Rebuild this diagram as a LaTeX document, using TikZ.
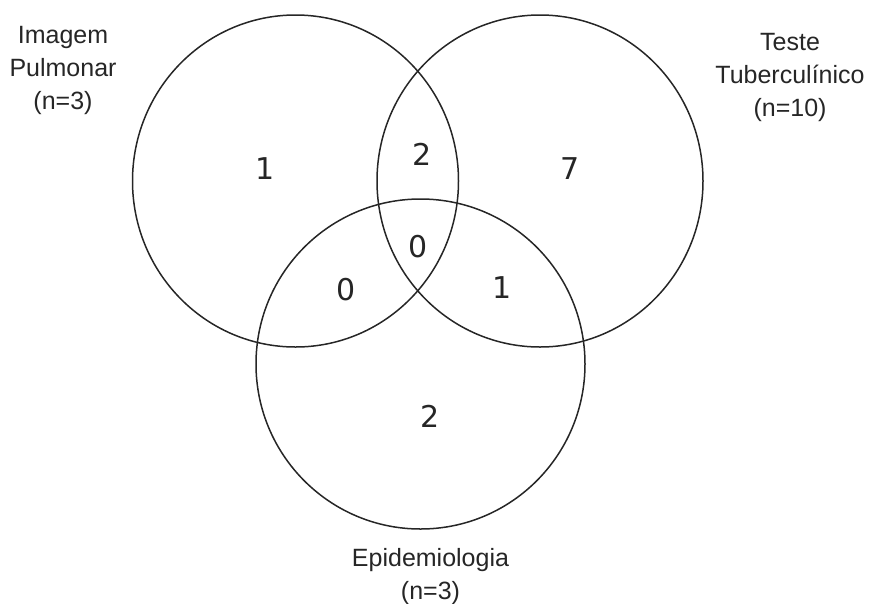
\documentclass[tikz,border=0pt]{standalone}
\usepackage{fontspec}
\setmainfont{Liberation Sans}
\newfontfamily\numfont{DejaVu Sans}
\begin{document}
\begin{tikzpicture}[x=1pt,y=-1pt,
  setcircle/.style={draw=black!85,line width=1.5pt},
  setlabel/.style={align=center,inner sep=0pt,anchor=north,text=black!85,font=\fontsize{25}{33}\selectfont},
  count/.style={inner sep=0pt,anchor=base,text=black!85,font=\numfont\fontsize{30}{30}\selectfont}]
\useasboundingbox (0,0) rectangle (870,603);
\draw[setcircle] (295.5,181) ellipse[x radius=163pt,y radius=166pt];
\draw[setcircle] (540,181) ellipse[x radius=163pt,y radius=166pt];
\draw[setcircle] (420.5,364) ellipse[x radius=164.5pt,y radius=165pt];
\node[setlabel] (lA) at (63,26) {Imagem\\Pulmonar\\(n=3)};
\node[setlabel] (lB) at (790,33) {Teste\\Tuberculínico\\(n=10)};
\node[setlabel] (lC) at (430.5,548) {Epidemiologia\\(n=3)};
\node[count] (nA) at (265,179) {1};
\node[count] (nAB) at (422.5,165) {2};
\node[count] (nB) at (570.5,179) {7};
\node[count] (nABC) at (418,257) {0};
\node[count] (nAC) at (346,300) {0};
\node[count] (nBC) at (502,298) {1};
\node[count] (nC) at (430,427) {2};
\end{tikzpicture}
\end{document}
